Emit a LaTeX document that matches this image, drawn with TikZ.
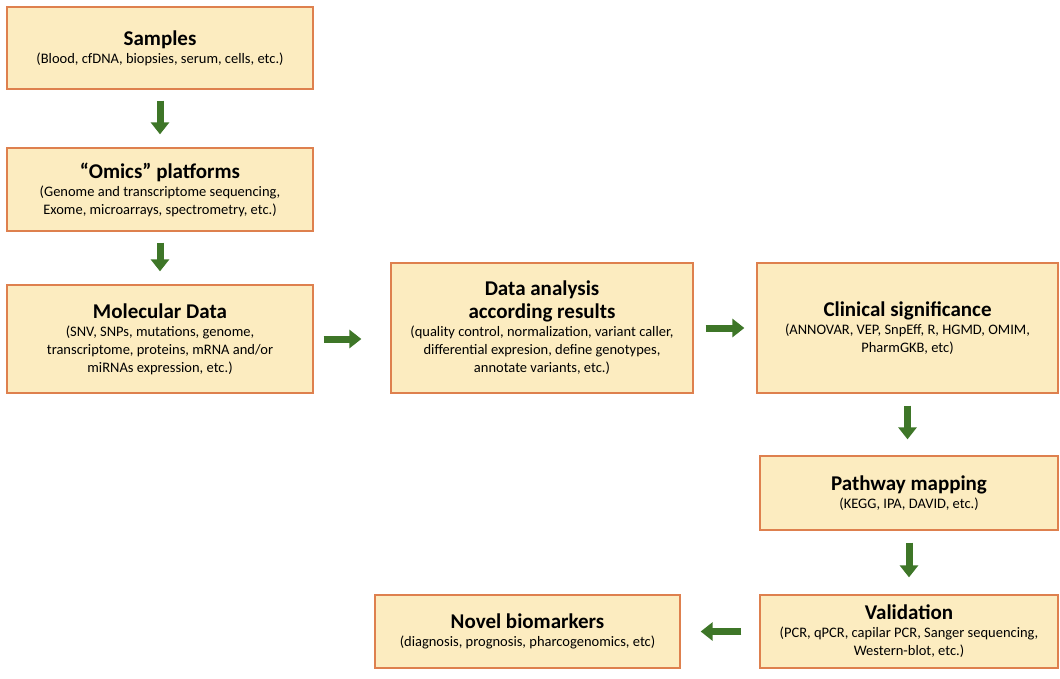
\documentclass[tikz,border=0pt]{standalone}
\usepackage{fontspec}
\setmainfont{Carlito}
\usepackage{xcolor}
\usetikzlibrary{positioning, calc, arrows.meta}
\definecolor{boxfill}{RGB}{252,236,192}
\definecolor{boxline}{RGB}{222,128,78}
\definecolor{flowgreen}{RGB}{62,118,40}
\newcommand{\ttl}{\fontsize{21}{25}\selectfont\bfseries}
\newcommand{\sub}{\fontsize{14.5}{18}\selectfont}

\begin{document}
\begin{tikzpicture}[x=1pt, y=-1pt,
    stage/.style={draw=boxline, line width=1.3pt, fill=boxfill, align=center,
        inner sep=0pt, font=\sub, minimum width=#1},
    flow/.style={draw=flowgreen, line width=7pt,
        -{Triangle[width=18pt, length=12pt]}}]

    % Canvas of the reference picture
    \useasboundingbox (0,0) rectangle (1060,678);

    % Left column: samples down to molecular data
    \node[stage=306pt, minimum height=82pt] (samples) at (160,48)
        {{\ttl Samples}\\(Blood, cfDNA, biopsies, serum, cells, etc.)};
    \node[stage=306pt, minimum height=83pt] (omics) at (160,189.5)
        {{\ttl ``Omics'' platforms}\\(Genome and transcriptome sequencing,\\Exome, microarrays, spectrometry, etc.)};
    \node[stage=306pt, minimum height=108pt] (molecular) at (160,339)
        {{\ttl Molecular Data}\\(SNV, SNPs, mutations, genome,\\transcriptome, proteins, mRNA and/or\\miRNAs expression, etc.)};

    % Middle: analysis of the data
    \node[stage=302pt, minimum height=130pt] (analysis) at (542,328)
        {{\ttl Data analysis}\\[4pt]{\ttl according results}\\(quality control, normalization, variant caller,\\differential expresion, define genotypes,\\annotate variants, etc.)};

    % Right column: clinical significance down to validation
    \node[stage=301pt, minimum height=130pt] (clinical) at (907.5,328)
        {{\ttl Clinical significance}\\(ANNOVAR, VEP, SnpEff, R, HGMD, OMIM,\\PharmGKB, etc)};
    \node[stage=298pt, minimum height=74pt] (pathway) at (909,493)
        {{\ttl Pathway mapping}\\(KEGG, IPA, DAVID, etc.)};
    \node[stage=298pt, minimum height=73pt] (validation) at (909,631.5)
        {{\ttl Validation}\\(PCR, qPCR, capilar PCR, Sanger sequencing,\\Western-blot, etc.)};

    % Bottom: outcome
    \node[stage=305pt, minimum height=73pt] (biomarkers) at (527.5,631.5)
        {{\ttl Novel biomarkers}\\(diagnosis, prognosis, pharcogenomics, etc)};

    % Green block arrows
    \draw[flow, shorten <=11pt, shorten >=13pt] (samples) -- (omics);
    \draw[flow, shorten <=11pt, shorten >=13pt] (omics) -- (molecular);
    \draw[flow, shorten <=10pt, shorten >=29pt] (molecular.east) -- (molecular.east -| analysis.west);
    \draw[flow, shorten <=12pt, shorten >=12pt] (analysis) -- (clinical);
    \draw[flow, shorten <=12pt, shorten >=16pt] (clinical.south) -- (clinical.south |- pathway.north);
    \draw[flow, shorten <=12pt, shorten >=17pt] (pathway) -- (validation);
    \draw[flow, shorten <=18pt, shorten >=20pt] (validation) -- (biomarkers);

\end{tikzpicture}
\end{document}
